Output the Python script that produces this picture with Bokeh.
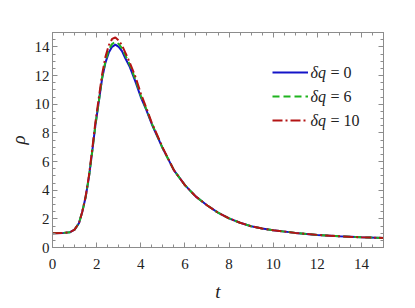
from bokeh.plotting import figure
from bokeh.models import (SingleIntervalTicker, LinearAxis, Range1d, Legend, LegendItem, Label,
                          CustomLabelingPolicy)
from bokeh.embed import file_html
from bokeh.resources import INLINE

# ---- data ----
t_vals = [0.0, 0.5, 0.8, 1.0, 1.2, 1.35, 1.5, 1.65, 1.8, 1.95, 2.1, 2.25, 2.4, 2.55, 2.7,
          2.85, 3.0, 3.15, 3.3, 3.5, 3.75, 4.0, 4.25, 4.5, 5.0, 5.5, 6.0, 6.5, 7.0, 7.5,
          8.0, 8.5, 9.0, 9.5, 10.0, 11.0, 12.0, 13.0, 14.0, 15.0]
rho_dq0 = [1.0, 1.02, 1.07, 1.25, 1.7, 2.5, 3.5, 4.9, 6.7, 8.6, 10.2, 11.8, 12.9, 13.6, 14.0,
           14.15, 14.0, 13.7, 13.2, 12.6, 11.6, 10.5, 9.6, 8.6, 6.9, 5.4, 4.35, 3.55, 2.95, 2.43,
           2.03, 1.73, 1.48, 1.32, 1.2, 1.02, 0.88, 0.78, 0.71, 0.67]
rho_dq6 = [1.0, 1.02, 1.07, 1.25, 1.7, 2.5, 3.5, 4.9, 6.7, 8.6, 10.2, 11.85, 13.0, 13.8, 14.2,
           14.35, 14.2, 13.9, 13.4, 12.75, 11.75, 10.6, 9.65, 8.65, 6.9, 5.4, 4.35, 3.55, 2.95, 2.43,
           2.03, 1.73, 1.48, 1.32, 1.2, 1.02, 0.88, 0.78, 0.71, 0.67]
rho_dq10 = [1.0, 1.02, 1.07, 1.25, 1.7, 2.5, 3.55, 5.0, 6.85, 8.8, 10.45, 12.1, 13.3, 14.1, 14.55,
            14.65, 14.45, 14.1, 13.6, 12.9, 11.95, 10.75, 9.75, 8.7, 6.95, 5.4, 4.35, 3.55, 2.95, 2.43,
            2.03, 1.73, 1.48, 1.32, 1.2, 1.02, 0.88, 0.78, 0.71, 0.67]
series_labels = ["0", "6", "10"]
x_ticks_interval = 2
y_ticks_interval = 2

FONT = "Liberation Serif"
GRAY = "#8c8c8c"
TXT = "#222222"

p = figure(frame_width=331, frame_height=215, output_backend="svg", toolbar_location=None,
           x_range=Range1d(0, 15), y_range=Range1d(0, 15),
           min_border_left=52, min_border_right=24, min_border_top=32, min_border_bottom=60,
           x_axis_label="t", y_axis_label="ρ")
p.background_fill_color = "white"
p.border_fill_color = "white"
p.outline_line_color = GRAY
p.outline_line_width = 1
p.grid.visible = False

p.xaxis.ticker = SingleIntervalTicker(interval=x_ticks_interval, num_minor_ticks=4)
p.yaxis.ticker = SingleIntervalTicker(interval=y_ticks_interval, num_minor_ticks=4)

def style_axis(ax):
    ax.axis_line_color = GRAY
    ax.major_tick_line_color = GRAY
    ax.minor_tick_line_color = GRAY
    ax.major_tick_in = 5
    ax.major_tick_out = 0
    ax.minor_tick_in = 3
    ax.minor_tick_out = 0
    ax.major_label_text_font = FONT
    ax.major_label_text_font_size = "15px"
    ax.major_label_text_color = TXT
    ax.axis_label_text_font = FONT
    ax.axis_label_text_font_size = "19px"
    ax.axis_label_text_font_style = "italic"
    ax.axis_label_text_color = TXT

for ax in p.xaxis:
    style_axis(ax)
    ax.major_label_standoff = 11
    ax.axis_label_standoff = 9
for ax in p.yaxis:
    style_axis(ax)
    ax.major_label_standoff = 3
    ax.axis_label_standoff = 3

top = LinearAxis(ticker=SingleIntervalTicker(interval=x_ticks_interval, num_minor_ticks=4))
style_axis(top)
top.major_label_policy = CustomLabelingPolicy(code="")
top.major_label_standoff = 0
p.add_layout(top, "above")
right = LinearAxis(ticker=SingleIntervalTicker(interval=y_ticks_interval, num_minor_ticks=4))
style_axis(right)
right.major_label_policy = CustomLabelingPolicy(code="")
right.major_label_standoff = 0
p.add_layout(right, "right")

r0 = p.line(t_vals, rho_dq0, line_color="#1414c8", line_width=2)
r6 = p.line(t_vals, rho_dq6, line_color="#1eb41e", line_width=2, line_dash="7 4")
r10 = p.line(t_vals, rho_dq10, line_color="#b41414", line_width=2, line_dash="10 3 2 3")

legend = Legend(items=[LegendItem(label=" ", renderers=[r]) for r in (r0, r6, r10)],
                location=(220, 117), glyph_width=36, glyph_height=20, label_height=20,
                label_width=1, spacing=4, padding=0, margin=0, label_standoff=0,
                border_line_color=None, background_fill_alpha=0)
legend.label_text_font_size = "10px"
p.add_layout(legend)

for i, lab in enumerate(series_labels):
    yy = 174.7 - 24 * i
    p.add_layout(Label(x=258, y=yy, x_units="screen", y_units="screen", text="δq",
                       text_font=FONT, text_font_size="16px", text_font_style="italic",
                       text_baseline="middle", text_color=TXT))
    p.add_layout(Label(x=278, y=yy, x_units="screen", y_units="screen", text="= " + lab,
                       text_font=FONT, text_font_size="16px",
                       text_baseline="middle", text_color=TXT))

open("out.html", "w").write(file_html(p, INLINE))
